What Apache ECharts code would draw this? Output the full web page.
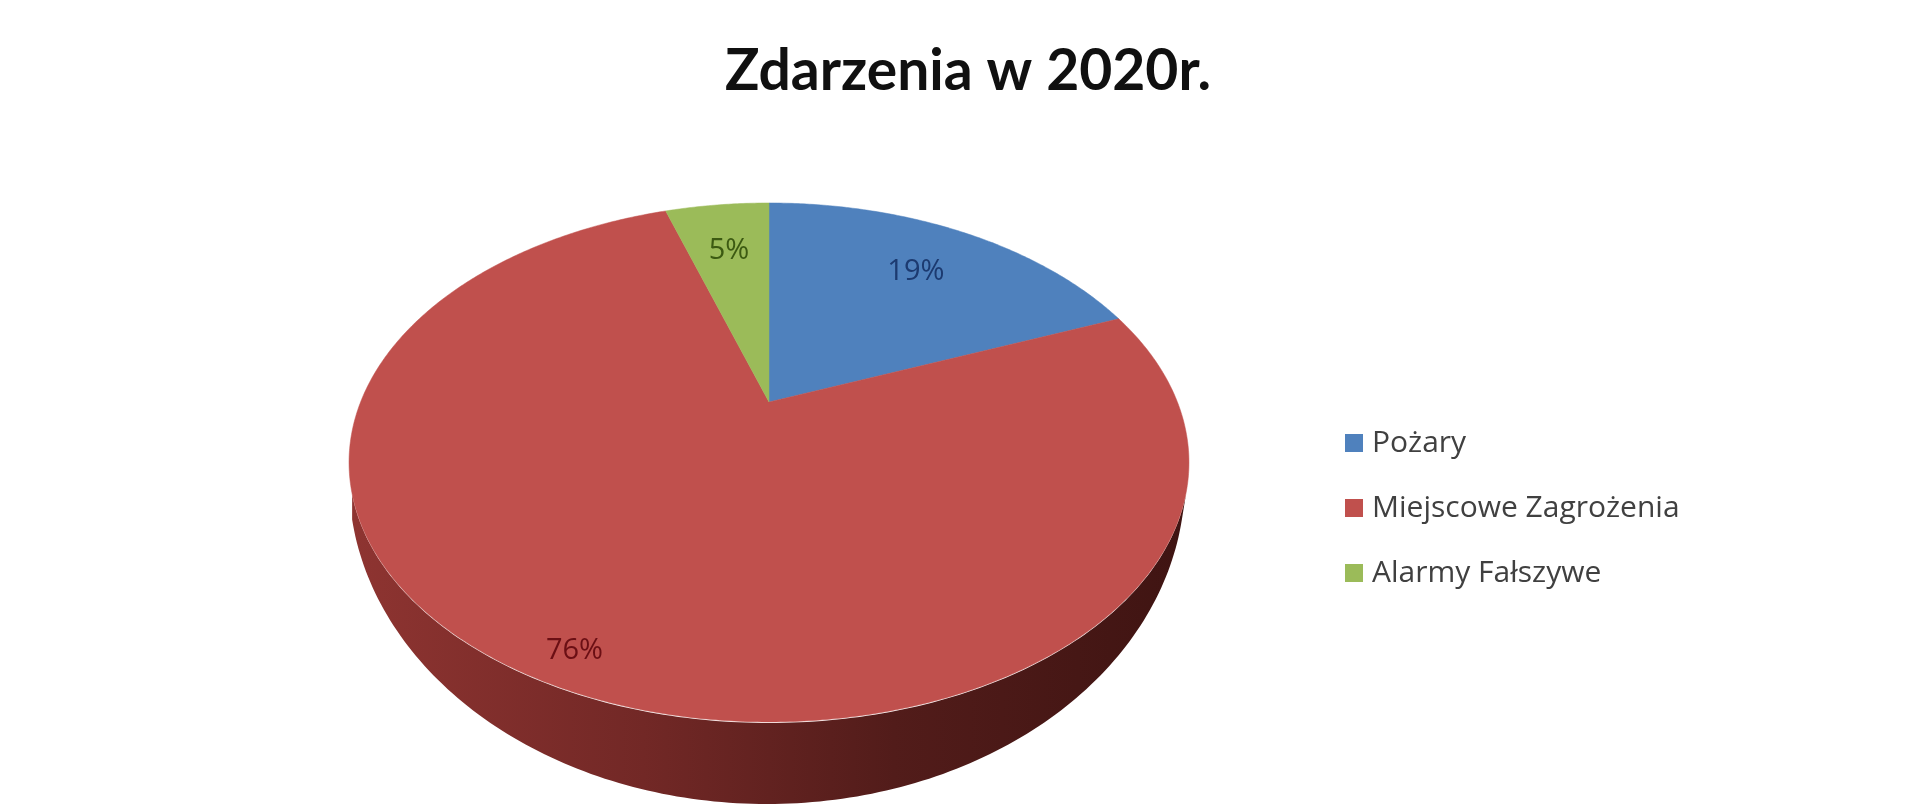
<!DOCTYPE html>
<html><head><meta charset="utf-8">
<style>html,body{margin:0;padding:0;background:#fff}#c{width:1920px;height:810px;filter:blur(0.7px)}</style>
<script src="https://cdn.jsdelivr.net/npm/echarts@6/dist/echarts.min.js"></script>
</head><body><div id="c"></div>
<script>
const chartTitle = 'Zdarzenia w 2020r.';
const categories = ['Pożary', 'Miejscowe Zagrożenia', 'Alarmy Fałszywe'];
const values = [19, 76, 5];
const sliceColors = ['#4F81BD', '#C0504D', '#9BBB59'];
const labelColors = ['#1c3a70', '#6b0f14', '#3c5a12'];
const labelReach = [0.73, 0.905, 0.73];

// perspective view of the pie disc: apex, projection strengths, tilt
const apex = {x: 769, y: 402}, A = 408.4, B = 245.4, K = 0.233;
const topEll = {cx: 769, cy: 463, rx: 420, ry: 260};
const botEll = {cx: 767, cy: 480, rx: 418, ry: 324};
const nearArc = [97, 263];
const total = values.reduce((a, b) => a + b, 0);
const rad = d => d * Math.PI / 180;

function project(deg, r) {
  const u = r * Math.sin(rad(deg)), v = -r * Math.cos(rad(deg));
  const w = 1 - K * v;
  return [apex.x + A * u / w, apex.y + B * v / w];
}
function ellPt(e, deg) {
  return [e.cx + e.rx * Math.sin(rad(deg)), e.cy - e.ry * Math.cos(rad(deg))];
}
function ellAngle(p) {
  let a = Math.atan2((p[0] - topEll.cx) / topEll.rx, -(p[1] - topEll.cy) / topEll.ry) * 180 / Math.PI;
  return a < 0 ? a + 360 : a;
}
function makeRender(index) {
  const before = values.slice(0, index).reduce((a, b) => a + b, 0);
  return function (params, api) {
    const val = api.value(0);
    const a0 = before / total * 360, a1 = a0 + val / total * 360;
    const children = [];
    // side wall: the part of the slice's rim on the near half of the disc
    const e0 = ellAngle(project(a0, 1));
    const e1 = a1 >= 360 ? 360 : ellAngle(project(a1, 1));
    const w0 = Math.max(e0, nearArc[0]), w1 = Math.min(e1, nearArc[1]);
    if (w1 > w0) {
      const upper = [], lower = [];
      for (let i = 0; i <= 160; i++) {
        const d = w0 + (w1 - w0) * i / 160;
        upper.push(ellPt(topEll, d));
        lower.unshift(ellPt(botEll, d));
      }
      children.push({
        type: 'polygon', shape: {points: upper.concat(lower)},
        style: {
          fill: {type: 'linear', x: 0, y: 0, x2: 1, y2: 0, colorStops: [
            {offset: 0, color: '#8e3431'}, {offset: 0.35, color: '#722826'},
            {offset: 0.65, color: '#521c1a'}, {offset: 1, color: '#3f1412'}]}
        }
      });
    }
    // top face
    const pts = [[apex.x, apex.y]];
    const n = Math.max(8, Math.ceil((a1 - a0) * 2));
    for (let i = 0; i <= n; i++) pts.push(project(a0 + (a1 - a0) * i / n, 1));
    const col = api.visual('color');
    children.push({type: 'polygon', shape: {points: pts}, style: {fill: col, stroke: col, lineWidth: 0.5}});
    // percent label
    const lp = project((a0 + a1) / 2, labelReach[index]);
    children.push({
      type: 'text', z2: 10,
      style: {
        text: Math.round(val / total * 100) + '%', x: lp[0], y: lp[1],
        align: 'center', verticalAlign: 'middle',
        fill: labelColors[index], font: '29px "Open Sans"'
      }
    });
    return {type: 'group', children: children};
  };
}
const chart = echarts.init(document.getElementById('c'), null, {renderer: 'canvas'});
chart.setOption({
  animation: false,
  backgroundColor: '#ffffff',
  title: {
    text: chartTitle, left: 963, top: 38, textAlign: 'center',
    textStyle: {fontFamily: 'Lato', fontWeight: 'bold', fontSize: 57, color: '#101010'}
  },
  legend: {
    orient: 'vertical', left: 1345, top: 428, itemWidth: 18, itemHeight: 18, itemGap: 35,
    icon: 'rect', data: categories, padding: 0,
    textStyle: {fontFamily: 'Open Sans', fontSize: 30, color: '#404040', padding: [0, 0, 0, 4]}
  },
  series: categories.map((name, i) => ({
    type: 'custom', name: name, coordinateSystem: 'none',
    itemStyle: {color: sliceColors[i]},
    renderItem: makeRender(i), data: [[values[i]]], silent: true
  }))
});
</script></body></html>
